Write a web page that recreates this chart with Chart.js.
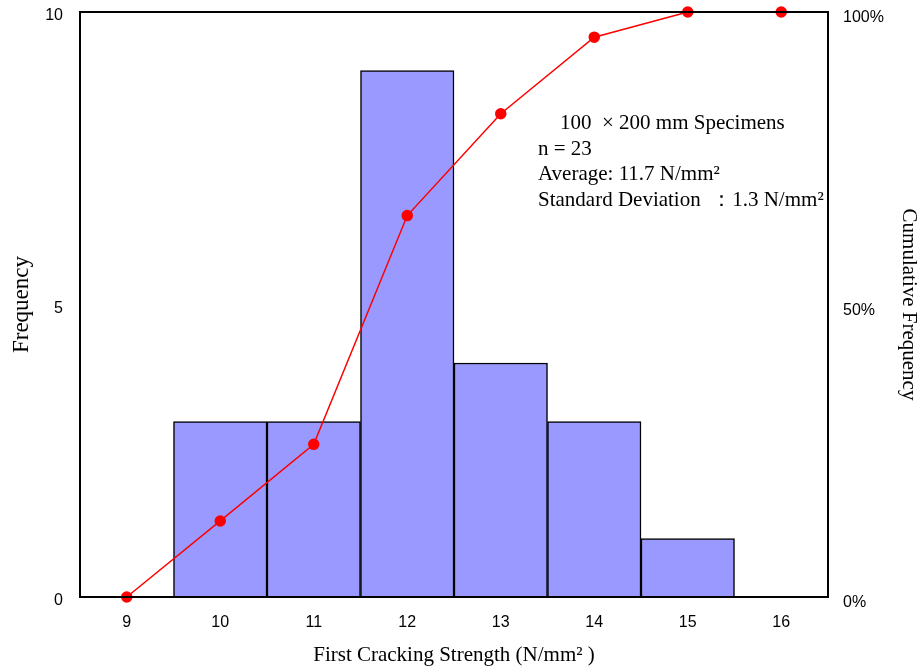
<!DOCTYPE html>
<html>
<head>
<meta charset="utf-8">
<script src="https://cdn.jsdelivr.net/npm/chart.js@4/dist/chart.umd.min.js"></script>
<style>
  html, body { margin: 0; padding: 0; background: #fff; }
  #wrap { width: 924px; height: 672px; }
</style>
</head>
<body>
<div id="wrap"><canvas id="chart" width="924" height="672"></canvas></div>
<script>
const strengths = ['9', '10', '11', '12', '13', '14', '15', '16'];
const frequency = [null, 3, 3, 9, 4, 3, 1, null];
const cumulative = [0, 13.0, 26.1, 65.2, 82.6, 95.7, 100, 100];
const freqTicks = [0, 5, 10];
const cumTicks = [0, 50, 100];
const notes = [
  '100  \u00d7 200 mm Specimens',
  'n = 23',
  'Average: 11.7 N/mm\u00b2',
  'Standard Deviation  \uff1a1.3 N/mm\u00b2',
];

const serif = '"Liberation Serif", "Times New Roman", serif';
const sans = '"Liberation Sans", Arial, sans-serif';

const framePlugin = {
  id: 'frame',
  afterDatasetsDraw(chart) {
    const { ctx, chartArea: a } = chart;
    ctx.save();
    ctx.strokeStyle = '#000';
    ctx.lineWidth = 2;
    ctx.strokeRect(a.left, a.top, a.right - a.left, a.bottom - a.top);
    ctx.restore();
  },
};

const notesPlugin = {
  id: 'notes',
  afterDraw(chart) {
    const { ctx, chartArea: a } = chart;
    ctx.save();
    ctx.fillStyle = '#000';
    ctx.font = '21px ' + serif;
    ctx.textBaseline = 'alphabetic';
    ctx.textAlign = 'left';
    notes.forEach((line, i) => {
      const x = a.left + (i === 0 ? 480 : 458);
      const y = a.top + 117 + i * 25.5;
      ctx.fillText(line, x, y);
    });
    ctx.restore();
  },
};

// keep the tick padding from pushing the plot area down
function fixVertical(width) {
  return scale => {
    scale.width = width;
    scale.paddingTop = 10;
    scale.paddingBottom = 10;
  };
}

new Chart(document.getElementById('chart').getContext('2d'), {
  data: {
    labels: strengths,
    datasets: [
      {
        type: 'line',
        data: cumulative,
        yAxisID: 'y2',
        borderColor: '#ff0000',
        borderWidth: 1.5,
        pointBackgroundColor: '#ff0000',
        pointBorderColor: '#ff0000',
        pointRadius: 5,
        tension: 0,
        clip: false,
        order: 0,
      },
      {
        type: 'bar',
        data: frequency,
        yAxisID: 'y',
        backgroundColor: '#9999ff',
        borderColor: '#000',
        borderWidth: 1.5,
        barPercentage: 1,
        categoryPercentage: 1,
        order: 1,
      },
    ],
  },
  options: {
    responsive: false,
    animation: false,
    layout: { padding: { top: 12, left: 0, right: 0, bottom: 0 } },
    plugins: {
      legend: { display: false },
      tooltip: { enabled: false },
    },
    scales: {
      x: {
        type: 'category',
        offset: true,
        grid: { display: false, drawTicks: false },
        border: { display: false },
        ticks: { color: '#000', font: { family: sans, size: 16 }, padding: 16 },
        title: {
          display: true,
          text: 'First Cracking Strength (N/mm\u00b2 )',
          color: '#000',
          font: { family: serif, size: 21 },
          padding: { top: 0, bottom: 4 },
        },
        afterFit(scale) { scale.height = 75; },
      },
      y: {
        position: 'left',
        min: 0,
        max: 10,
        afterBuildTicks(scale) { scale.ticks = freqTicks.map(v => ({ value: v })); },
        grid: { display: false, drawTicks: false },
        border: { display: false },
        ticks: { color: '#000', font: { family: sans, size: 16 }, padding: 17, labelOffset: 4 },
        title: {
          display: true,
          text: 'Frequency',
          color: '#000',
          font: { family: serif, size: 23 },
          padding: { top: 8, bottom: 0 },
        },
        afterFit: fixVertical(80),
      },
      y2: {
        position: 'right',
        min: 0,
        max: 100,
        afterBuildTicks(scale) { scale.ticks = cumTicks.map(v => ({ value: v })); },
        grid: { display: false, drawTicks: false },
        border: { display: false },
        ticks: {
          color: '#000',
          font: { family: '"Liberation Sans Narrow", ' + sans, size: 16 },
          padding: 15,
          labelOffset: 6,
          callback: v => v + '%',
        },
        title: {
          display: true,
          text: 'Cumulative Frequency',
          color: '#000',
          font: { family: serif, size: 21 },
          padding: { top: 3, bottom: 0 },
        },
        afterFit: fixVertical(96),
      },
    },
  },
  plugins: [framePlugin, notesPlugin],
});
</script>
</body>
</html>
